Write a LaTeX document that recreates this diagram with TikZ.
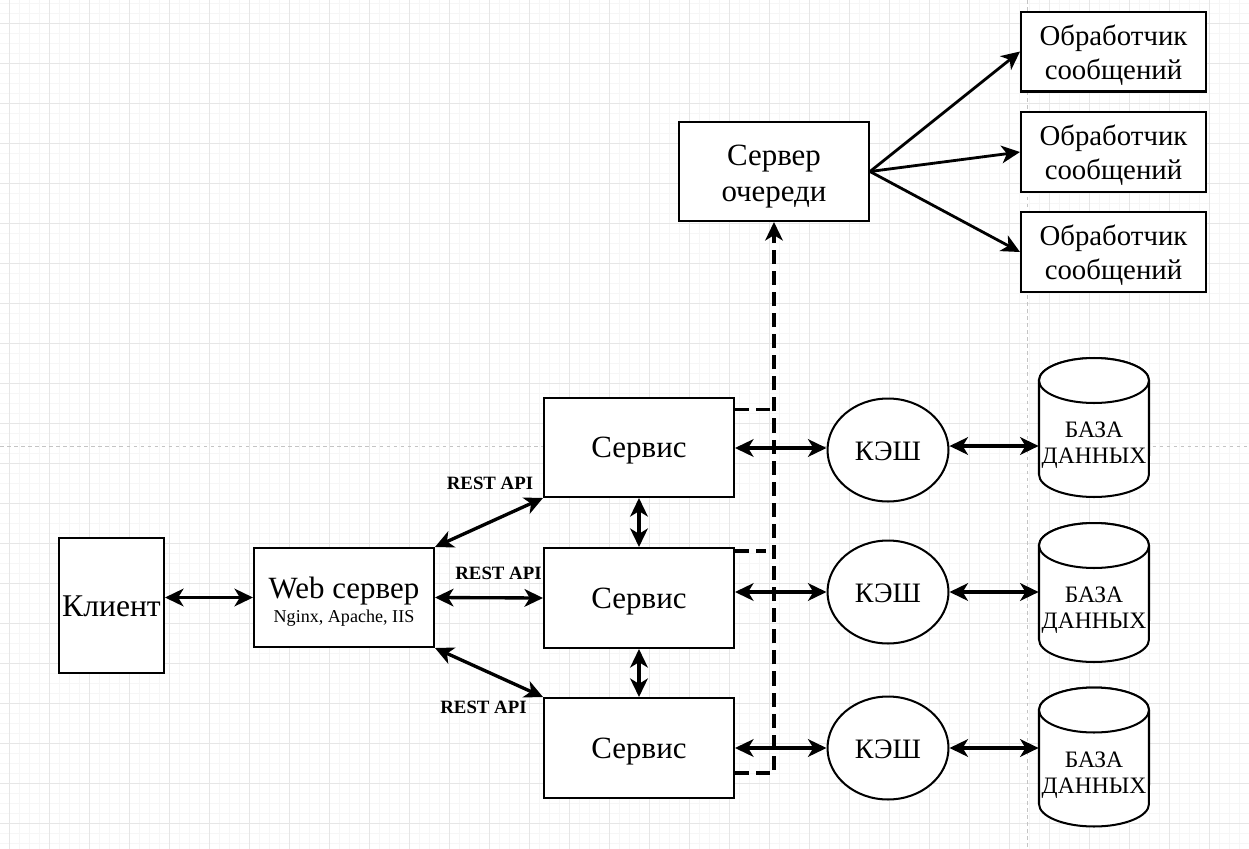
\documentclass[tikz,border=0pt]{standalone}
\usepackage{fontspec}
\setmainfont{Liberation Serif}
\usetikzlibrary{arrows.meta,shapes.geometric}
\definecolor{minorline}{HTML}{F6F6F6}
\definecolor{majorline}{HTML}{E6E6E6}
\definecolor{pageline}{HTML}{C4C4C4}

\begin{document}
\begin{tikzpicture}[x=0.02cm,y=-0.02cm,
	>={Stealth[length=10.5pt,width=10pt,inset=3pt]},
	box/.style={draw,line width=1.15pt,fill=white,align=center,inner sep=0pt},
	big/.style={font=\fontsize{17.6}{21}\selectfont},
	handler/.style={box,font=\fontsize{16.4}{19.3}\selectfont,minimum width=3.7cm,minimum height=1.6cm,text height=31.6pt,text depth=0pt},
	cache/.style={ellipse,draw,line width=1.15pt,fill=white,inner sep=0pt,minimum width=2.42cm,minimum height=2.06cm,font=\fontsize{16}{19}\selectfont,text height=11.4pt,text depth=0pt},
	db/.style={minimum width=2.2cm,minimum height=2.78cm,inner sep=0pt,
		label={[font=\fontsize{13.4}{14.8}\selectfont,align=center,yshift=-0.36cm]center:БАЗА\\ДАННЫХ}},
	cyl/.style={draw,line width=1.15pt,fill=white},
	arr/.style={line width=1.9pt,<->},
	onearr/.style={line width=1.6pt,->},
	dasharr/.style={line width=1.9pt,dash pattern=on 8pt off 4pt},
	api/.style={font=\fontsize{10.7}{12}\selectfont\bfseries,inner sep=0pt}]

	\useasboundingbox (0,0) rectangle (1249,849);
	\fill[white] (0,0) rectangle (1249,849);
	\foreach \i in {1,...,124} \draw[minorline,line width=0.5pt] (10*\i-1,0) -- (10*\i-1,849);
	\foreach \j in {0,...,84} \draw[minorline,line width=0.5pt] (0,10*\j+3) -- (1249,10*\j+3);
	\foreach \i in {0,...,31} \draw[majorline,line width=0.55pt] (40*\i+9,0) -- (40*\i+9,849);
	\foreach \j in {0,...,20} \draw[majorline,line width=0.55pt] (0,40*\j+23) -- (1249,40*\j+23);
	\draw[pageline,line width=0.5pt,dash pattern=on 2pt off 2pt] (0,446) -- (1249,446);
	\draw[pageline,line width=0.5pt,dash pattern=on 2pt off 2pt] (1027,0) -- (1027,849);

	\foreach \y in {427.5,592.5,757}{
		\draw[cyl] (1039,\y-47) -- (1039,\y+47) arc[start angle=180,end angle=360,x radius=1.1cm,y radius=0.45cm]
			-- (1149,\y-47) arc[start angle=0,end angle=180,x radius=1.1cm,y radius=0.45cm] -- cycle;
		\draw[cyl] (1094,\y-47) ellipse[x radius=1.1cm,y radius=0.45cm];
	}

	\node[box,font=\fontsize{18}{21}\selectfont,minimum width=2.1cm,minimum height=2.7cm,text height=13pt,text depth=0pt] (client) at (111.5,605.5) {Клиент};
	\node[box,font=\fontsize{17.6}{14.2}\selectfont,minimum width=3.6cm,minimum height=1.98cm,text height=29pt,text depth=0pt] (web) at (344,597.5)
		{Web сервер\\\fontsize{10.3}{14.2}\selectfont Nginx, Apache, IIS};

	\node[box,big,minimum width=3.8cm,minimum height=1.98cm,text height=11.8pt,text depth=0pt] (srv1) at (639,447.5) {Сервис};
	\node[box,big,minimum width=3.8cm,minimum height=2cm,text height=11.8pt,text depth=0pt] (srv2) at (639,598) {Сервис};
	\node[box,big,minimum width=3.8cm,minimum height=2cm,text height=11.8pt,text depth=0pt] (srv3) at (639,748) {Сервис};

	\node[box,big,minimum width=3.8cm,minimum height=1.98cm,text height=34.7pt,text depth=0pt] (queue) at (774,171.5) {Сервер\\очереди};

	\node[handler] (hnd1) at (1113.5,51.5) {Обработчик\\сообщений};
	\node[handler] (hnd2) at (1113.5,152) {Обработчик\\сообщений};
	\node[handler] (hnd3) at (1113.5,252) {Обработчик\\сообщений};

	\node[cache] (cache1) at (888,450) {КЭШ};
	\node[cache] (cache2) at (888,592) {КЭШ};
	\node[cache] (cache3) at (888,748) {КЭШ};

	\node[db] (db1) at (1094,427.5) {};
	\node[db] (db2) at (1094,592.5) {};
	\node[db] (db3) at (1094,757) {};

	\node[api] (api1) at (490,483) {REST API};
	\node[api] (api2) at (498.5,573.5) {REST API};
	\node[api] (api3) at (483.5,707) {REST API};

	\draw[arr] (web.west -| client.east) -- (web.west);
	\draw[arr] (web.north east) -- (srv1.south west);
	\draw[arr] (web.east) -- (srv2.west);
	\draw[arr] (web.south east) -- (srv3.north west);
	\draw[arr] (srv1.south) -- (srv2.north);
	\draw[arr] (srv2.south) -- (srv3.north);

	\draw[arr] ([yshift=0.04cm]cache1.west -| srv1.east) -- ([yshift=0.04cm]cache1.west);
	\draw[arr] (cache2.west -| srv2.east) -- (cache2.west);
	\draw[arr] (cache3.west -| srv3.east) -- (cache3.west);
	\draw[arr] ([yshift=0.08cm]cache1.east) -- ([yshift=0.08cm]cache1.east -| db1.west);
	\draw[arr] (cache2.east) -- (cache2.east -| db2.west);
	\draw[arr] (cache3.east) -- (cache3.east -| db3.west);

	\draw[onearr] (queue.east) -- (hnd1.west);
	\draw[onearr] (queue.east) -- (hnd2.west);
	\draw[onearr] (queue.east) -- (hnd3.west);

	\draw[dasharr,->] ([yshift=-0.5cm]srv3.east) -| (queue.south);
	\draw[dasharr] ([yshift=0.76cm]srv1.east) -- ([yshift=0.76cm]srv1.east -| queue.south);
	\draw[dasharr] ([yshift=0.94cm]srv2.east) -- ([yshift=0.94cm,xshift=-0.16cm]srv2.east -| queue.south);

\end{tikzpicture}
\end{document}
